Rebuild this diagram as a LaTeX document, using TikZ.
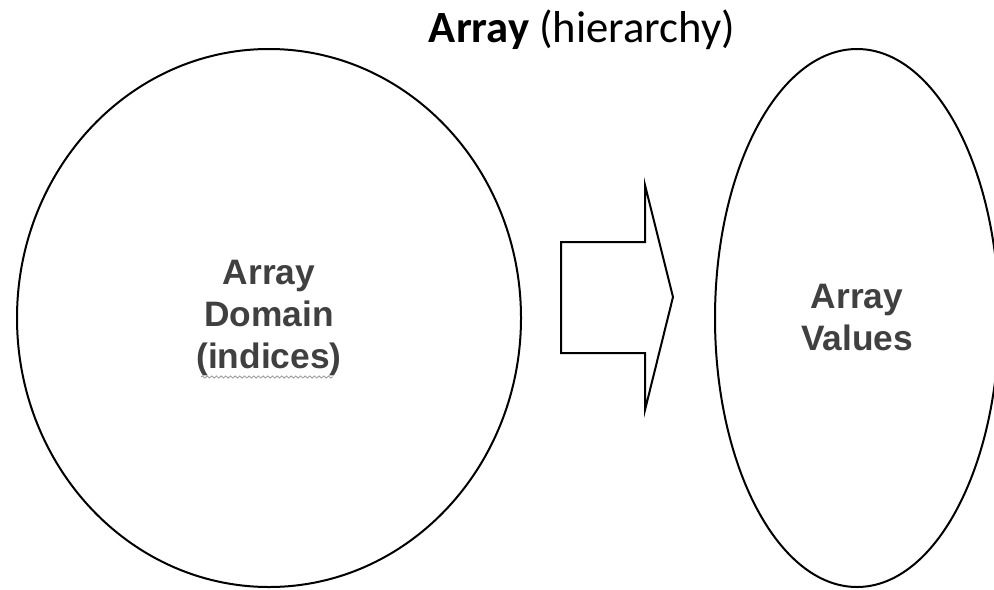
\documentclass[tikz,border=0pt]{standalone}
\usepackage{fontspec}
\setmainfont{Carlito}
\newfontfamily\arialfont{Liberation Sans}
\usetikzlibrary{shapes.geometric,decorations.pathmorphing}
\definecolor{labelgrey}{RGB}{64, 64, 64}
\definecolor{squiggle}{RGB}{150, 150, 150}

\begin{document}
\begin{tikzpicture}[x=0.75pt, y=-0.75pt]
			\useasboundingbox (0, 0) rectangle (994, 589);
			\node [anchor=base, font=\fontsize{33.5}{40}\selectfont] (title) at (582, 42) {\textbf{Array} (hierarchy)};
			\node [draw, ellipse, line width=1.5pt, inner sep=0pt, minimum width=378pt, minimum height=403.5pt, align=center, text=labelgrey, font=\arialfont\bfseries\fontsize{26.5}{31.5}\selectfont] (domain) at (269, 318) {Array\\Domain\\(indices)};
			\node [draw, ellipse, line width=1.5pt, inner sep=0pt, minimum width=213pt, minimum height=403.5pt, align=center, text=labelgrey, font=\arialfont\bfseries\fontsize{26.5}{31.5}\selectfont] (values) at (857, 318) {Array\\Values};
			\draw [squiggle, line width=0.6pt, decorate, decoration={snake, amplitude=0.8pt, segment length=3.5pt}] (201, 377) -- (333, 377);
			\draw [line width=1.5pt, line join=miter] (561, 242) -- (645, 242) -- (645, 185) -- (673, 297) -- (645, 410) -- (645, 353) -- (561, 353) -- cycle;
		\end{tikzpicture}
\end{document}
